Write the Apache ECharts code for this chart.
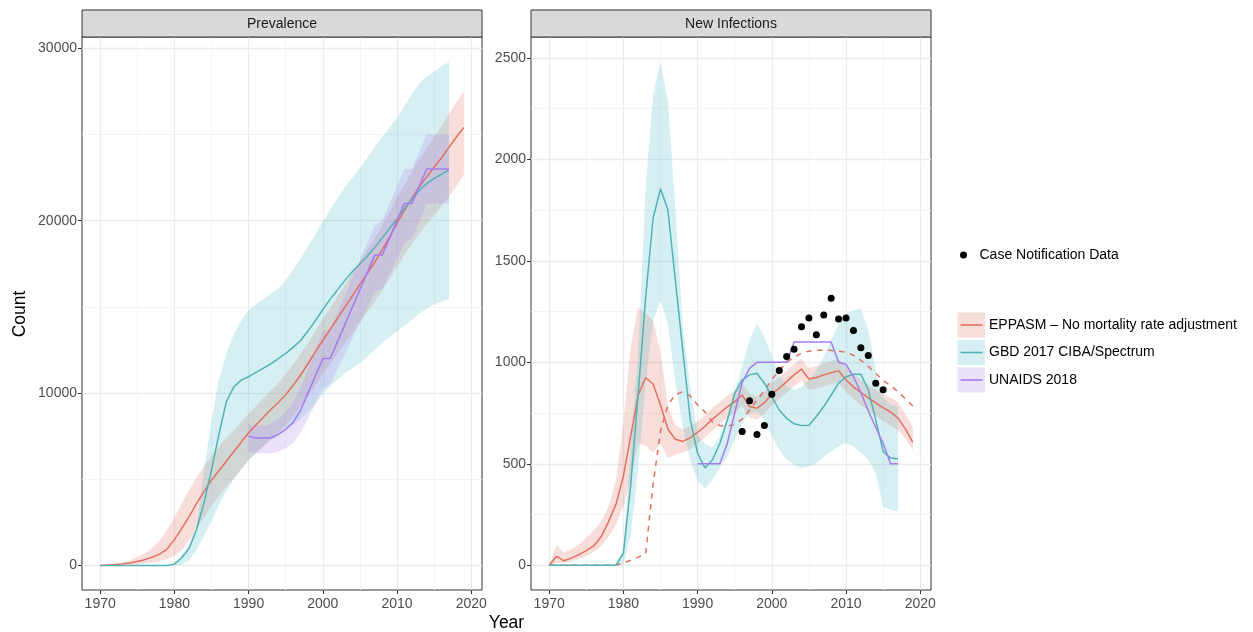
<!DOCTYPE html>
<html lang="en">
<head>
<meta charset="UTF-8">
<title>Prevalence and New Infections</title>
<script src="https://cdn.jsdelivr.net/npm/echarts@6.0.0/dist/echarts.min.js"></script>
<style>
    html, body { margin: 0; padding: 0; background: #fff; }
    #chart { width: 1253px; height: 632px; }
</style>
</head>
<body>
<div id="chart"></div>
<script>
// years
const yearsE = [1970,1971,1972,1973,1974,1975,1976,1977,1978,1979,1980,1981,1982,1983,1984,1985,1986,1987,1988,1989,
    1990,1991,1992,1993,1994,1995,1996,1997,1998,1999,2000,2001,2002,2003,2004,2005,2006,2007,2008,2009,
    2010,2011,2012,2013,2014,2015,2016,2017,2018,2019];
const yearsG = [1970,1971,1972,1973,1974,1975,1976,1977,1978,1979,1980,1981,1982,1983,1984,1985,1986,1987,1988,1989,
    1990,1991,1992,1993,1994,1995,1996,1997,1998,1999,2000,2001,2002,2003,2004,2005,2006,2007,2008,2009,
    2010,2011,2012,2013,2014,2015,2016,2017];
const yearsU = [1990,1991,1992,1993,1994,1995,1996,1997,1998,1999,2000,2001,2002,2003,2004,2005,2006,2007,2008,2009,
    2010,2011,2012,2013,2014,2015,2016,2017];
const yearsCase = [1996,1997,1998,1999,2000,2001,2002,2003,2004,2005,2006,2007,2008,2009,2010,2011,2012,2013,2014,2015];

// Prevalence panel
const prevEppasm = [0,25,55,95,150,230,340,480,660,950,1500,2150,2850,3600,4300,4950,5500,6050,6600,7150,
    7700,8150,8600,9050,9450,9900,10450,11050,11700,12400,13050,13700,14350,15000,15650,16300,16950,17600,18300,19050,
    19850,20600,21300,21950,22550,23100,23650,24250,24850,25400];
const prevEppasmLo = [0,5,15,30,50,80,120,180,260,360,550,900,1450,2100,2800,3450,4000,4550,5050,5550,
    6150,6550,6950,7350,7750,8150,8650,9200,9800,10450,11100,11700,12300,12900,13500,14100,14700,15300,15950,16650,
    17350,18000,18650,19250,19800,20300,20850,21400,22000,22650];
const prevEppasmHi = [0,40,90,170,300,500,700,1000,1450,2050,2800,3600,4400,5100,5750,6350,6900,7400,7850,8300,
    8800,9250,9700,10150,10600,11100,11650,12250,12900,13600,14300,14950,15650,16300,17000,17650,18300,19000,19700,20500,
    21350,22100,22850,23550,24200,24850,25500,26200,26850,27500];
const prevGbd = [0,0,0,0,0,0,0,0,0,0,80,450,1000,2100,3650,5550,7600,9500,10350,10750,
    10950,11200,11450,11700,12000,12300,12650,13050,13600,14200,14850,15450,16000,16550,17050,17500,17950,18450,19000,19550,
    20100,20700,21250,21750,22150,22450,22700,22950];
const prevGbdLo = [0,0,0,0,0,0,0,0,0,0,0,50,300,900,1700,2600,3500,4300,5000,5600,
    6100,6500,6900,7250,7550,7850,8150,8500,8900,9400,9950,10400,10800,11150,11450,11750,12100,12500,12900,13250,
    13550,13900,14250,14600,14900,15150,15300,15450];
const prevGbdHi = [0,0,0,0,0,0,0,0,0,0,150,600,1300,2200,5600,8400,10800,12300,13400,14200,
    14800,15150,15450,15750,16100,16550,17150,17800,18500,19200,19950,20650,21300,21950,22500,23050,23650,24250,24850,25400,
    25950,26650,27350,27950,28350,28650,28950,29200];
const prevUnaids = [7500,7400,7400,7400,7600,7900,8300,9000,10000,11000,12000,12000,13000,14000,15000,16000,17000,18000,18000,19000,
    20000,21000,21000,22000,23000,23000,23000,23000];
const prevUnaidsLo = [6600,6500,6500,6500,6600,6800,7100,7700,8500,9400,10300,10500,11400,12300,13200,14100,15000,15900,16000,16900,
    17800,18700,19000,19900,21000,21000,21000,21000];
const prevUnaidsHi = [8200,8100,8100,8200,8500,8900,9500,10300,11400,12500,13600,13700,14700,15700,16700,17700,18700,19700,20000,21000,
    22000,23000,23000,24000,25000,25000,25000,25000];

// New infections panel
const niEppasm = [0,44,22,35,52,72,95,140,215,300,440,640,840,924,893,790,670,621,610,628,
    655,685,720,750,780,806,839,782,774,800,845,872,905,938,966,918,925,938,949,959,
    913,878,852,825,800,776,755,725,672,605];
const niEppasmLo = [0,10,12,20,30,45,65,95,140,200,290,420,600,590,555,600,530,545,555,570,
    600,630,665,695,725,752,785,725,718,745,790,818,850,882,912,864,870,882,892,900,
    852,818,790,762,735,710,688,665,625,565];
const niEppasmHi = [0,100,62,80,100,135,170,215,290,420,700,1080,1273,1240,1205,1050,790,690,670,685,
    710,740,775,805,835,860,895,845,830,855,900,925,958,990,1018,972,980,994,1006,1018,
    975,940,915,890,866,845,825,805,745,683];
const niEppasmDashed = [0,0,0,0,0,0,0,0,0,0,12,25,40,57,400,660,790,840,855,835,
    790,755,705,688,685,695,720,765,815,860,915,960,1000,1025,1045,1055,1060,1060,1058,1055,
    1050,1035,1010,980,945,910,885,855,820,785];
const niGbd = [0,0,0,0,0,0,0,0,0,0,60,400,850,1320,1710,1855,1750,1405,1060,720,
    552,479,520,600,716,847,913,938,946,897,831,765,724,697,688,690,733,782,839,897,
    929,941,941,864,716,561,528,525];
const niGbdLo = [0,0,0,0,0,0,0,0,0,0,0,150,480,900,1200,1306,1190,900,680,520,
    415,380,421,480,536,618,700,749,757,716,634,569,520,495,479,487,503,536,561,585,
    602,585,553,520,454,290,274,266];
const niGbdHi = [0,0,0,0,0,0,0,0,0,0,70,600,1050,1860,2320,2480,2290,1750,1180,880,
    640,600,580,634,733,864,979,1110,1191,1126,1027,940,885,864,880,913,962,1027,1110,1191,
    1241,1257,1265,1159,962,831,790,785];
const niUnaids = [500,500,500,500,600,750,900,970,1000,1000,1000,1000,1000,1100,1100,1100,1100,1100,1100,1000,
    990,930,850,760,680,600,500,500];
const caseNotif = [659,811,644,688,842,960,1028,1064,1175,1218,1136,1233,1316,1213,1218,1157,1072,1034,897,865];

// ticks
const xTicks = [1970, 1980, 1990, 2000, 2010, 2020];
const xMinor = [1975, 1985, 1995, 2005, 2015];
const prevTicks = [0, 10000, 20000, 30000];
const prevMinor = [5000, 15000, 25000];
const niTicks = [0, 500, 1000, 1500, 2000, 2500];
const niMinor = [250, 750, 1250, 1750, 2250];

const NAME_E = 'EPPASM \u2013 No mortality rate adjustment';
const NAME_G = 'GBD 2017 CIBA/Spectrum';
const NAME_U = 'UNAIDS 2018';
const NAME_C = 'Case Notification Data';

const FONT = '"Liberation Sans", Arial, Helvetica, sans-serif';
const COL_E = '#E46F5E', COL_G = '#4FB3B6', COL_U = '#A47CF0';
const FILL_E = 'rgba(223,115,99,0.24)', FILL_G = 'rgba(91,191,203,0.25)', FILL_U = 'rgba(175,135,239,0.25)';

function pairs(xs, ys) {
    return xs.map((x, i) => [x, ys[i]]);
}

// ribbon drawn as one polygon through the axis scales
function band(name, idx, xs, lo, hi, fill) {
    return {
        name: name, type: 'custom', xAxisIndex: idx, yAxisIndex: idx, z: 1, silent: true,
        data: xs.map((x, i) => [x, lo[i], hi[i]]),
        renderItem: function (params, api) {
            if (params.dataIndex !== 0) return null;
            const pts = [];
            for (let i = 0; i < xs.length; i++) pts.push(api.coord([xs[i], hi[i]]));
            for (let i = xs.length - 1; i >= 0; i--) pts.push(api.coord([xs[i], lo[i]]));
            return { type: 'polygon', shape: { points: pts }, style: { fill: fill } };
        }
    };
}

function line(name, idx, xs, ys, color, dashed) {
    return {
        name: name, type: 'line', xAxisIndex: idx, yAxisIndex: idx, z: 3,
        data: pairs(xs, ys), showSymbol: false, symbol: 'none', silent: true,
        lineStyle: { color: color, width: 1.5, type: dashed ? [5.5, 5.5] : 'solid' }
    };
}

const X_MIN = 1967.55, X_MAX = 2021.45;
const labelStyle = { color: '#4D4D4D', fontSize: 14, fontFamily: FONT };

function xMajor(g) {
    return {
        type: 'value', gridIndex: g, min: X_MIN, max: X_MAX, position: 'bottom',
        axisLine: { show: false, onZero: false },
        axisTick: { show: true, customValues: xTicks, length: 4, lineStyle: { color: '#333333', width: 1 } },
        axisLabel: Object.assign({ customValues: xTicks, margin: 7, formatter: v => String(v) }, labelStyle),
        splitLine: { show: true, lineStyle: { color: '#EBEBEB', width: 1.3 } }
    };
}
function xMinorAxis(g) {
    return {
        type: 'value', gridIndex: g, min: X_MIN, max: X_MAX, position: 'bottom',
        axisLine: { show: false, onZero: false },
        axisTick: { show: false, customValues: xMinor },
        axisLabel: { show: false, customValues: xMinor },
        splitLine: { show: true, lineStyle: { color: '#F1F1F1', width: 0.8 } }
    };
}
function yMajor(g, min, max, ticks) {
    return {
        type: 'value', gridIndex: g, min: min, max: max, position: 'left',
        axisLine: { show: false, onZero: false },
        axisTick: { show: true, customValues: ticks, length: 4, lineStyle: { color: '#333333', width: 1 } },
        axisLabel: Object.assign({ customValues: ticks, margin: 5, formatter: v => String(v) }, labelStyle),
        splitLine: { show: true, lineStyle: { color: '#EBEBEB', width: 1.3 } }
    };
}
function yMinorAxis(g, min, max, ticks) {
    return {
        type: 'value', gridIndex: g, min: min, max: max, position: 'left',
        axisLine: { show: false, onZero: false },
        axisTick: { show: false, customValues: ticks },
        axisLabel: { show: false, customValues: ticks },
        splitLine: { show: true, lineStyle: { color: '#F1F1F1', width: 0.8 } }
    };
}

const chart = echarts.init(document.getElementById('chart'));

const option = {
    animation: false,
    backgroundColor: '#ffffff',
    textStyle: { fontFamily: FONT },
    grid: [
        { left: 82, top: 37, width: 400, height: 553, show: true, borderColor: '#333333', borderWidth: 1, backgroundColor: 'transparent', outerBoundsMode: 'none' },
        { left: 531, top: 37, width: 400, height: 553, show: true, borderColor: '#333333', borderWidth: 1, backgroundColor: 'transparent', outerBoundsMode: 'none' }
    ],
    xAxis: [xMajor(0), xMajor(1), xMinorAxis(0), xMinorAxis(1)],
    yAxis: [
        yMajor(0, -1420, 30650, prevTicks),
        yMajor(1, -122, 2603, niTicks),
        yMinorAxis(0, -1420, 30650, prevMinor),
        yMinorAxis(1, -122, 2603, niMinor)
    ],
    legend: [
        {
            data: [{ name: NAME_C, icon: 'circle', itemStyle: { color: '#000000', opacity: 1, borderWidth: 0 } }],
            left: 960, top: 245, orient: 'vertical', padding: 0, selectedMode: false,
            itemWidth: 26, itemHeight: 7, itemGap: 0,
            textStyle: { color: '#000000', fontSize: 14, fontFamily: FONT, lineHeight: 20, padding: [0, 0, 0, -2] }
        },
        {
            data: [
                { name: NAME_E, icon: 'rect', itemStyle: { color: FILL_E, borderWidth: 0 } },
                { name: NAME_G, icon: 'rect', itemStyle: { color: FILL_G, borderWidth: 0 } },
                { name: NAME_U, icon: 'rect', itemStyle: { color: FILL_U, borderWidth: 0 } }
            ],
            left: 957.5, top: 312.5, orient: 'vertical', padding: 0, selectedMode: false,
            itemWidth: 27.5, itemHeight: 25, itemGap: 2.5,
            textStyle: { color: '#000000', fontSize: 14, fontFamily: FONT, padding: [0, 0, 0, -1] }
        },
        {
            data: [
                { name: NAME_E, icon: 'rect', itemStyle: { color: COL_E, borderWidth: 0 } },
                { name: NAME_G, icon: 'rect', itemStyle: { color: COL_G, borderWidth: 0 } },
                { name: NAME_U, icon: 'rect', itemStyle: { color: COL_U, borderWidth: 0 } }
            ],
            left: 960.5, top: 312.5, orient: 'vertical', padding: 0, selectedMode: false,
            itemWidth: 22, itemHeight: 1.6, itemGap: 2.5,
            textStyle: { color: 'rgba(0,0,0,0)', fontSize: 14, fontFamily: FONT, lineHeight: 25 }
        }
    ],
    graphic: [
        { type: 'rect', shape: { x: 82, y: 10, width: 400, height: 27 }, style: { fill: '#D9D9D9', stroke: '#333333', lineWidth: 1 }, z: 10 },
        { type: 'text', x: 282, y: 24, style: { text: 'Prevalence', fontSize: 14, fontFamily: FONT, fill: '#1A1A1A', align: 'center', verticalAlign: 'middle' }, z: 11 },
        { type: 'rect', shape: { x: 531, y: 10, width: 400, height: 27 }, style: { fill: '#D9D9D9', stroke: '#333333', lineWidth: 1 }, z: 10 },
        { type: 'text', x: 731, y: 24, style: { text: 'New Infections', fontSize: 14, fontFamily: FONT, fill: '#1A1A1A', align: 'center', verticalAlign: 'middle' }, z: 11 },
        { type: 'text', x: 20, y: 314, rotation: Math.PI / 2, style: { text: 'Count', fontSize: 17.5, fontFamily: FONT, fill: '#000000', align: 'center', verticalAlign: 'middle' } },
        { type: 'text', x: 506.5, y: 623, style: { text: 'Year', fontSize: 17.5, fontFamily: FONT, fill: '#000000', align: 'center', verticalAlign: 'middle' } }
    ],
    series: [
        // Prevalence
        band(NAME_E, 0, yearsE, prevEppasmLo, prevEppasmHi, FILL_E),
        band(NAME_G, 0, yearsG, prevGbdLo, prevGbdHi, FILL_G),
        band(NAME_U, 0, yearsU, prevUnaidsLo, prevUnaidsHi, FILL_U),
        line(NAME_E, 0, yearsE, prevEppasm, COL_E),
        line(NAME_G, 0, yearsG, prevGbd, COL_G),
        line(NAME_U, 0, yearsU, prevUnaids, COL_U),
        // New infections
        band(NAME_E, 1, yearsE, niEppasmLo, niEppasmHi, FILL_E),
        band(NAME_G, 1, yearsG, niGbdLo, niGbdHi, FILL_G),
        line(NAME_E, 1, yearsE, niEppasm, COL_E),
        line('EPPASM (dashed)', 1, yearsE, niEppasmDashed, COL_E, true),
        line(NAME_G, 1, yearsG, niGbd, COL_G),
        line(NAME_U, 1, yearsU, niUnaids, COL_U),
        {
            name: NAME_C, type: 'scatter', xAxisIndex: 1, yAxisIndex: 1, z: 4, silent: true,
            data: pairs(yearsCase, caseNotif), symbolSize: 7,
            itemStyle: { color: '#000000', opacity: 1 }
        }
    ]
};

chart.setOption(option);
</script>
</body>
</html>
